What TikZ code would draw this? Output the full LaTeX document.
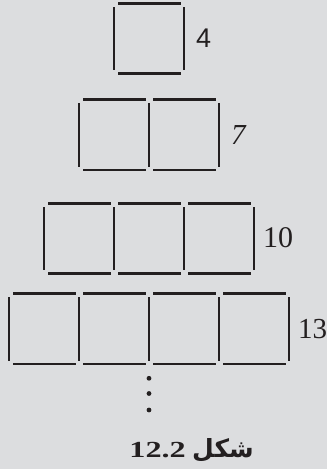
\documentclass[tikz,border=0pt]{standalone}
\usepackage{fontspec}
\setmainfont{Liberation Serif}
\newfontfamily\arabicfont[Script=Arabic]{DejaVu Sans}
\newfontfamily\labsans{Liberation Sans}
\TeXXeTstate=1
\definecolor{bg}{HTML}{DCDDDF}
\definecolor{ink}{HTML}{231F20}
\begin{document}
\begin{tikzpicture}[x=1pt,y=-1pt,
  hstick/.style={draw=ink,line width=2.4pt},
  vstick/.style={draw=ink,line width=2.8pt},
  lab/.style={inner sep=0pt,anchor=west,text=ink},
  dotmark/.style={fill=ink,circle,inner sep=0pt,minimum size=4.8pt}]
\fill[bg] (0,0) rectangle (327,469);
\useasboundingbox (0,0) rectangle (327,469);
% rows: n squares, top, bottom
\foreach \n/\t/\b in {1/3.3/73.3, 2/99.3/170, 3/203.3/273.3, 4/293.3/364}{
  \pgfmathsetmacro{\xl}{149-35*\n}
  \foreach \k in {1,...,\n}{
    \pgfmathsetmacro{\xa}{\xl+70*(\k-1)}
    \draw[hstick] (\xa+4,\t) -- (\xa+66.5,\t);
    \draw[hstick] (\xa+4,\b) -- (\xa+66.5,\b);
  }
  \foreach \k in {0,...,\n}{
    \pgfmathsetmacro{\xv}{\xl+70*\k}
    \draw[vstick] (\xv,\t+4) -- (\xv,\b-3.5);
  }
}
\node[lab,font=\labsans\fontsize{27}{27}\selectfont] (l4) at (196,38) {4};
\node[lab,font=\itshape\fontsize{29}{29}\selectfont] (l7) at (231,135) {7};
\node[lab,font=\fontsize{30}{30}\selectfont] (l10) at (263,238) {10};
\node[lab,font=\fontsize{29}{29}\selectfont] (l13) at (298,329) {13};
\node[dotmark] (d1) at (149,378.3) {};
\node[dotmark] (d2) at (149,393.5) {};
\node[dotmark] (d3) at (149,410) {};
\node[inner sep=0pt,anchor=base east,text=ink,font=\bfseries\fontsize{23}{23}\selectfont] (cap) at (186,457) {\scalebox{1.4}[1]{12.2}};
\node[inner sep=0pt,anchor=base west,text=ink,font=\bfseries\fontsize{25}{25}\selectfont] (urdu) at (192,457) {\arabicfont\beginR شکل\endR};
\end{tikzpicture}
\end{document}
